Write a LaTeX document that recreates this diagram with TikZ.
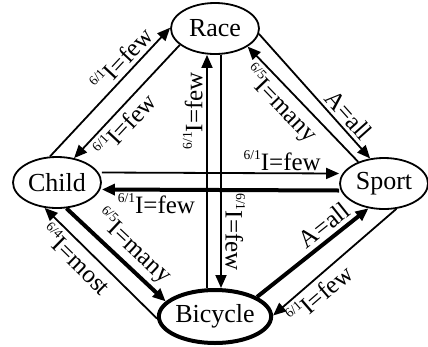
\documentclass[tikz,border=0pt]{standalone}
\usepackage{fontspec}
\setmainfont{Liberation Serif}
\usetikzlibrary{shapes.geometric,arrows.meta}
\newcommand{\edgelab}[2]{\raisebox{10.5pt}{\fontsize{13.5}{13.5}\selectfont #1}I=#2}

\begin{document}
\begin{tikzpicture}[x=1pt,y=-1pt,
    state/.style={draw,ellipse,line width=1.8pt,inner sep=0pt,minimum width=88pt,minimum height=51pt,font=\fontsize{26}{26}\selectfont},
    link/.style={line width=1.8pt,-{Triangle[length=13pt,width=11pt]}},
    strong/.style={link,line width=4pt},
    lab/.style={font=\fontsize{25}{25}\selectfont,inner sep=3.5pt}]
    \useasboundingbox (0,0) rectangle (428,346);
    % States
    \node[state] (race) at (215,28.5) {Race};
    \node[state] (child) at (57,182.5) {Child};
    \node[state] (sport) at (384,183.5) {Sport};
    \node[state,line width=4pt,minimum width=84pt,minimum height=53pt] (bicycle) at (215,316.5) {Bicycle};
    % Child and Race
    \draw[link] (child.105) -- (race.179) node[pos=0.68,sloped,above,lab] {\edgelab{6/1}{few}};
    \draw[link] (race.205) -- (child.55) node[pos=0.62,sloped,below,lab] {\edgelab{6/1}{few}};
    % Race and Sport
    \draw[link] (race.353) -- (sport.119) node[pos=0.72,sloped,above,lab] {A=all};
    \draw[link] (sport.140) -- (race.331) node[pos=0.6,sloped,below,lab] {\edgelab{6/5}{many}};
    % Child and Sport
    \draw[link] ([yshift=10pt]child.east) -- ([yshift=10pt]sport.west) node[pos=0.76,above,lab,inner sep=2pt] {\edgelab{6/1}{few}};
    \draw[strong] ([yshift=-7pt]sport.west) -- ([yshift=-7pt]child.east) node[pos=0.77,below,lab,inner sep=2pt] {\edgelab{6/1}{few}};
    % Race and Bicycle
    \draw[link] ([xshift=6pt]race.south) -- ([xshift=6pt]bicycle.north) node[pos=0.76,lab,rotate=-90,anchor=south] {\edgelab{6/1}{few}};
    \draw[link] ([xshift=-8pt]bicycle.north) -- ([xshift=-8pt]race.south) node[pos=0.76,lab,rotate=90,anchor=south] {\edgelab{6/1}{few}};
    % Child and Bicycle
    \draw[strong] (child.290) -- (bicycle.163) node[pos=0.55,sloped,above,lab] {\edgelab{6/5}{many}};
    \draw[link] (bicycle.182) -- (child.244) node[pos=0.63,sloped,below,lab] {\edgelab{6/4}{most}};
    % Bicycle and Sport
    \draw[strong] (bicycle.25) -- (sport.238) node[pos=0.68,sloped,above,lab] {A=all};
    \draw[link] (sport.296) -- (bicycle.1) node[pos=0.7,sloped,below,lab] {\edgelab{6/1}{few}};
\end{tikzpicture}
\end{document}
